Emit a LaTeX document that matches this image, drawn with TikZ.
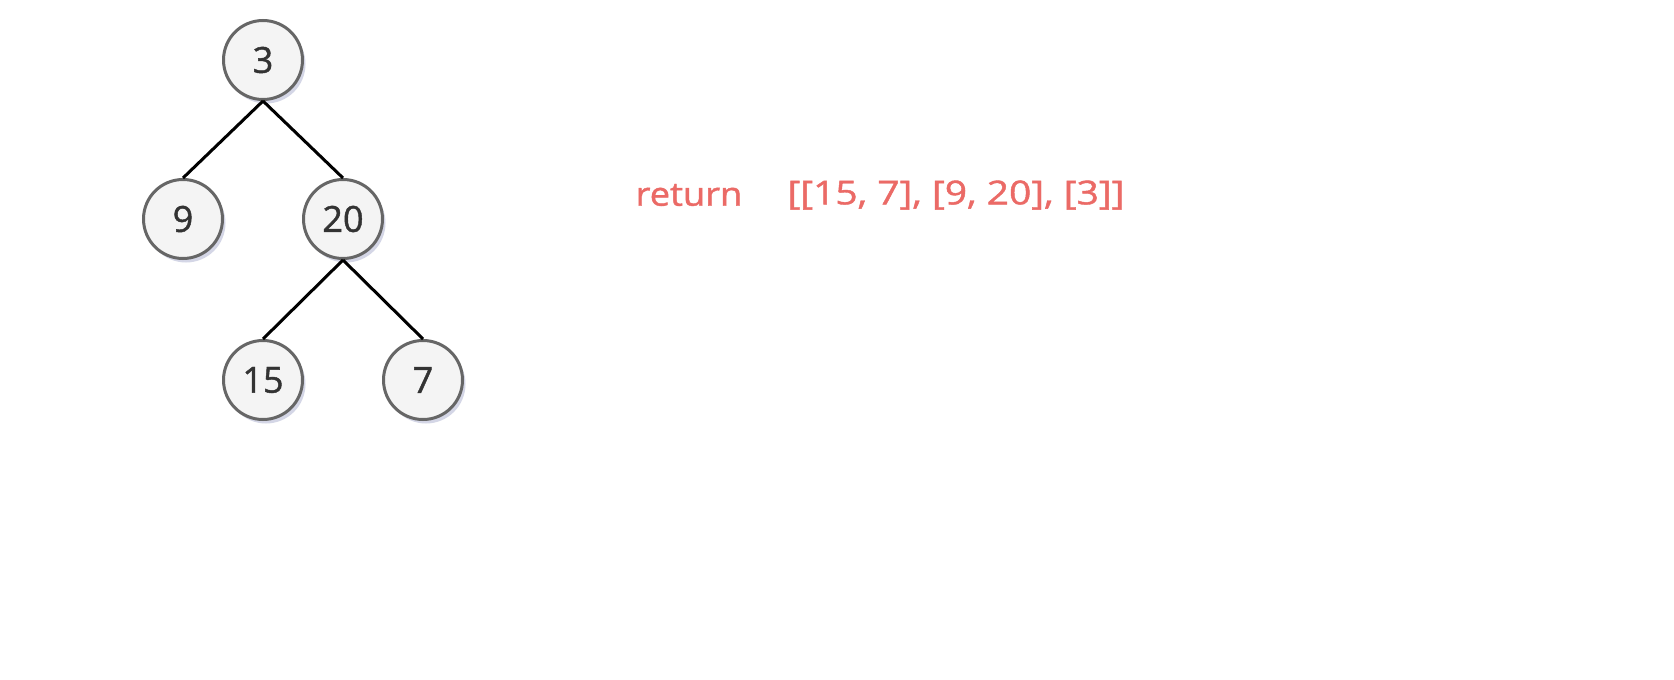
\documentclass[tikz,border=0pt]{standalone}
\usepackage{fontspec}
\setmainfont{Open Sans}
\newfontfamily\labelfont[FakeBold=1.2]{Open Sans}
\usetikzlibrary{shadows}
\definecolor{nodefill}{HTML}{F4F4F4}
\definecolor{nodeline}{HTML}{666666}
\definecolor{retred}{HTML}{EB6A66}
\definecolor{shadowblue}{HTML}{B8BCD6}
\tikzset{
  treenode/.style={circle, minimum size=79pt, inner sep=0pt, fill=nodefill, draw=nodeline, line width=3pt,
    font=\labelfont\fontsize{36}{42}\selectfont, text=black!80,
    drop shadow={shadow xshift=3pt, shadow yshift=-4pt, fill=shadowblue, opacity=0.6}},
  edge/.style={line width=3pt, black},
  rettext/.style={text=retred, font=\labelfont\fontsize{33}{38}\selectfont, inner sep=0pt}
}
\begin{document}
\begin{tikzpicture}[x=1pt,y=-1pt]
\useasboundingbox (0,0) rectangle (1674,680);
\fill[white] (0,0) rectangle (1674,680);
\node[treenode] (n3) at (263,60) {3};
\node[treenode] (n9) at (183,219) {9};
\node[treenode] (n20) at (343,219) {20};
\node[treenode] (n15) at (263,380) {15};
\node[treenode] (n7) at (423,380) {7};
\draw[edge] (n3.south) -- (n9.north);
\draw[edge] (n3.south) -- (n20.north);
\draw[edge] (n20.south) -- (n15.north);
\draw[edge] (n20.south) -- (n7.north);
\node[rettext] (ret) at (689,195) {\scalebox{1.1}[1]{return}};
\node[rettext] (res) at (956,195) {\scalebox{1.18}[1]{[[15, 7], [9, 20], [3]]}};
\end{tikzpicture}
\end{document}
